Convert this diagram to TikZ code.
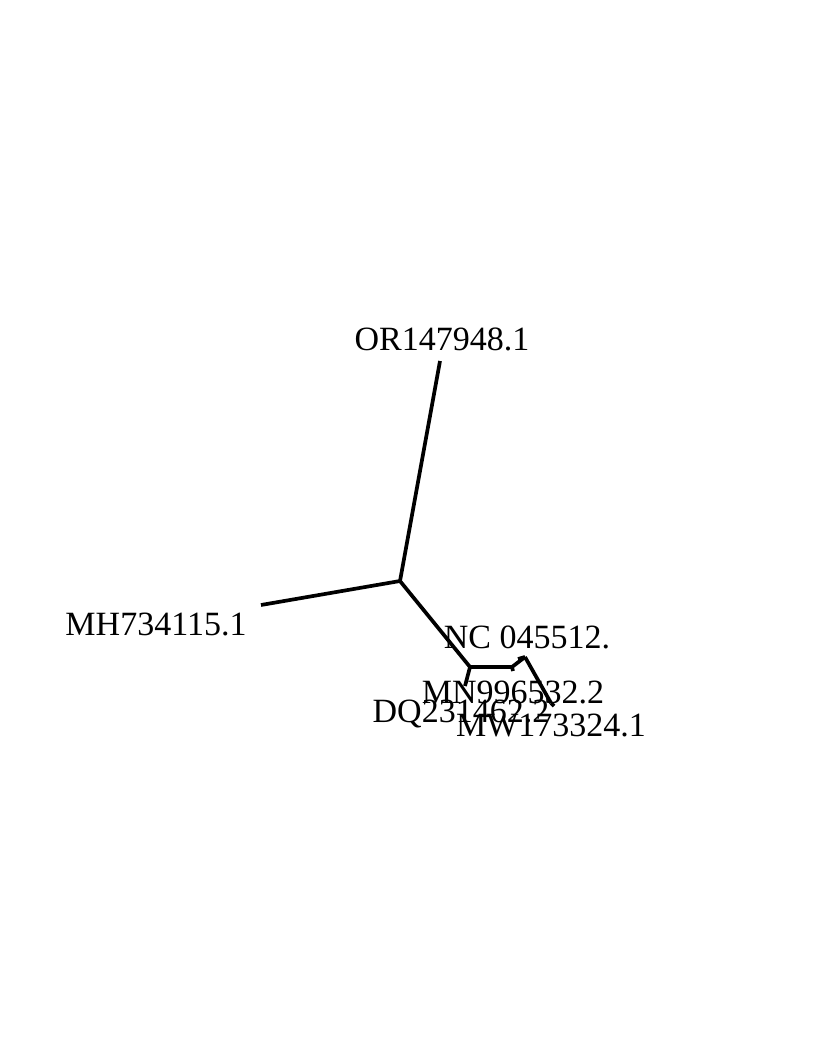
\documentclass[tikz,border=0pt]{standalone}
\usepackage{fontspec}
\setmainfont{Liberation Serif}
\usepackage{tikz}
\usetikzlibrary{calc}
\definecolor{treeblack}{RGB}{0, 0, 0}

\begin{document}
\begin{tikzpicture}[x=1pt, y=-1pt,
  edge/.style={line width=3.7pt, treeblack, line cap=butt, line join=round},
  tiplabel/.style={anchor=base, inner sep=0pt, font=\fontsize{34}{40}\selectfont}]
\useasboundingbox (0,0) rectangle (813,1063);

% Internal nodes
\coordinate (root) at (400,581);
\coordinate (inA) at (470,667);
\coordinate (inB) at (512,667);
\coordinate (inC) at (525,657);
\coordinate (inD) at (551,703);

% Tips
\coordinate (tOR) at (440,361);
\coordinate (tMH) at (261,605);
\coordinate (tDQ) at (465,686);
\coordinate (tNC) at (518,659);
\coordinate (tMN) at (513,671);
\coordinate (tMW) at (554,706);

% Labels
\node[tiplabel] (lOR) at (442,350) {OR147948.1};
\node[tiplabel] (lMH) at (156,635) {MH734115.1};
\node[tiplabel] (lNC) at (527,648) {NC 045512.};
\node[tiplabel] (lMN) at (513,703) {MN996532.2};
\node[tiplabel] (lDQ) at (461,722) {DQ231462.2};
\node[tiplabel] (lMW) at (551,736) {MW173324.1};

% Edges
\draw[edge] (root) -- (tOR);
\draw[edge] (root) -- (tMH);
\draw[edge] (root) -- (inA);
\draw[edge] (inA) -- (tDQ);
\draw[edge] (inA) -- (inB);
\draw[edge] (inB) -- (tMN);
\draw[edge] (inB) -- (inC);
\draw[edge] (inC) -- (tNC);
\draw[edge] (inC) -- (inD);
\draw[edge] (inD) -- (tMW);
\end{tikzpicture}
\end{document}
